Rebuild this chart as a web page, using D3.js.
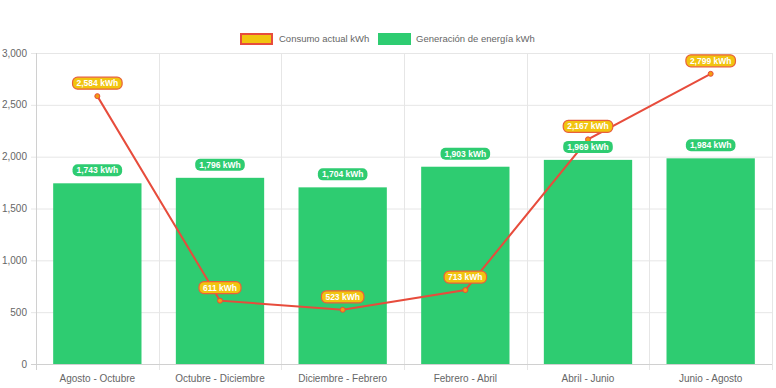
<!DOCTYPE html>
<html><head><meta charset="utf-8">
<script src="https://cdn.jsdelivr.net/npm/d3@7"></script>
<style>body{margin:0;background:#fff;}svg{display:block;font-family:"Liberation Sans",Arial,Helvetica,sans-serif;}</style>
</head><body><svg id="c" width="776" height="388"></svg>
<script>
const categories = ["Agosto - Octubre","Octubre - Diciembre","Diciembre - Febrero","Febrero - Abril","Abril - Junio","Junio - Agosto"];
const consumo = [2584, 611, 523, 713, 2167, 2799];
const generacion = [1743, 1796, 1704, 1903, 1969, 1984];
const yTicks = [0, 500, 1000, 1500, 2000, 2500, 3000];
const seriesNames = ["Consumo actual kWh", "Generación de energía kWh"];

const svg = d3.select("#c");
const m = {l:36, r:4, t:53, b:24};
const W = 776, H = 388;
const x = d3.scaleBand().domain(categories).range([m.l, W - m.r]).paddingInner(0).paddingOuter(0);
const y = d3.scaleLinear().domain([0, 3000]).range([H - m.b, m.t]);
const fmt = d3.format(",");
const grid = "#e6e6e6";

// horizontal grid
svg.append("g").selectAll("line").data(yTicks).join("line")
  .attr("x1", m.l - 5).attr("x2", W - m.r)
  .attr("y1", d => y(d) + 0.5).attr("y2", d => y(d) + 0.5)
  .attr("stroke", grid).attr("stroke-width", 1);
// vertical grid
const bounds = categories.map(c => x(c)).concat([W - m.r]);
svg.append("g").selectAll("line").data(bounds).join("line")
  .attr("x1", d => Math.round(d) + 0.5).attr("x2", d => Math.round(d) + 0.5)
  .attr("y1", m.t).attr("y2", H - m.b + 6)
  .attr("stroke", grid).attr("stroke-width", 1);
// axis lines
svg.append("line").attr("x1", m.l + 0.5).attr("x2", m.l + 0.5).attr("y1", m.t).attr("y2", H - m.b + 6).attr("stroke", "#d0d0d0");
svg.append("line").attr("x1", m.l - 5).attr("x2", W - m.r).attr("y1", y(0) + 0.5).attr("y2", y(0) + 0.5).attr("stroke", "#d0d0d0");

// y tick labels
svg.append("g").selectAll("text").data(yTicks).join("text")
  .attr("x", 27).attr("y", d => y(d)).attr("dy", "0.35em")
  .attr("text-anchor", "end").attr("font-size", 10).attr("fill", "#666")
  .text(d => fmt(d));
// x labels
svg.append("g").selectAll("text").data(categories).join("text")
  .attr("x", d => x(d) + x.bandwidth() / 2).attr("y", H - 6)
  .attr("text-anchor", "middle").attr("font-size", 10).attr("fill", "#666")
  .text(d => d);

// bars
const bw = x.bandwidth() * 0.72;
svg.append("g").selectAll("rect").data(generacion).join("rect")
  .attr("x", (d, i) => x(categories[i]) + (x.bandwidth() - bw) / 2)
  .attr("y", d => y(d)).attr("width", bw).attr("height", d => y(0) - y(d))
  .attr("fill", "#2ecc71");

// line
const cx = (i) => x(categories[i]) + x.bandwidth() / 2;
const line = d3.line().x((d, i) => cx(i)).y(d => y(d));
svg.append("path").datum(consumo).attr("d", line).attr("fill", "none")
  .attr("stroke", "#e74c3c").attr("stroke-width", 2);
svg.append("g").selectAll("circle").data(consumo).join("circle")
  .attr("cx", (d, i) => cx(i)).attr("cy", d => y(d)).attr("r", 2.5)
  .attr("fill", "#f39c12").attr("stroke", "#e74c3c").attr("stroke-width", 1);

// data labels
function pill(g, cxv, cyv, text, bg, border) {
  const t = g.append("text").attr("x", cxv).attr("y", cyv).attr("dy", "0.35em")
    .attr("text-anchor", "middle").attr("font-size", 8.5).attr("font-weight", "bold")
    .attr("fill", "#fff").text(text);
  const w = t.node().getComputedTextLength() + 8;
  g.insert("rect", "text").attr("x", cxv - w / 2).attr("y", cyv - 6).attr("width", w).attr("height", 12)
    .attr("rx", 5).attr("fill", bg).attr("stroke", border).attr("stroke-width", border === "none" ? 0 : 1.2);
}
const gl = svg.append("g");
generacion.forEach((d, i) => {
  const g = gl.append("g");
  pill(g, cx(i), y(d) - 13, fmt(d) + " kWh", "#2ecc71", "none");
});
consumo.forEach((d, i) => {
  const g = gl.append("g");
  pill(g, cx(i), y(d) - 13, fmt(d) + " kWh", "#f1c40f", "#e8603c");
});

// legend
const lg = svg.append("g");
lg.append("rect").attr("x", 241).attr("y", 34).attr("width", 31).attr("height", 10)
  .attr("fill", "#f1c40f").attr("stroke", "#e74c3c").attr("stroke-width", 2);
lg.append("text").attr("x", 279).attr("y", 39).attr("dy", "0.35em").attr("font-size", 9.5).attr("fill", "#666").text(seriesNames[0]);
lg.append("rect").attr("x", 378).attr("y", 33).attr("width", 33).attr("height", 12).attr("fill", "#2ecc71");
lg.append("text").attr("x", 416).attr("y", 39).attr("dy", "0.35em").attr("font-size", 9.5).attr("fill", "#666").text(seriesNames[1]);
</script></body></html>
